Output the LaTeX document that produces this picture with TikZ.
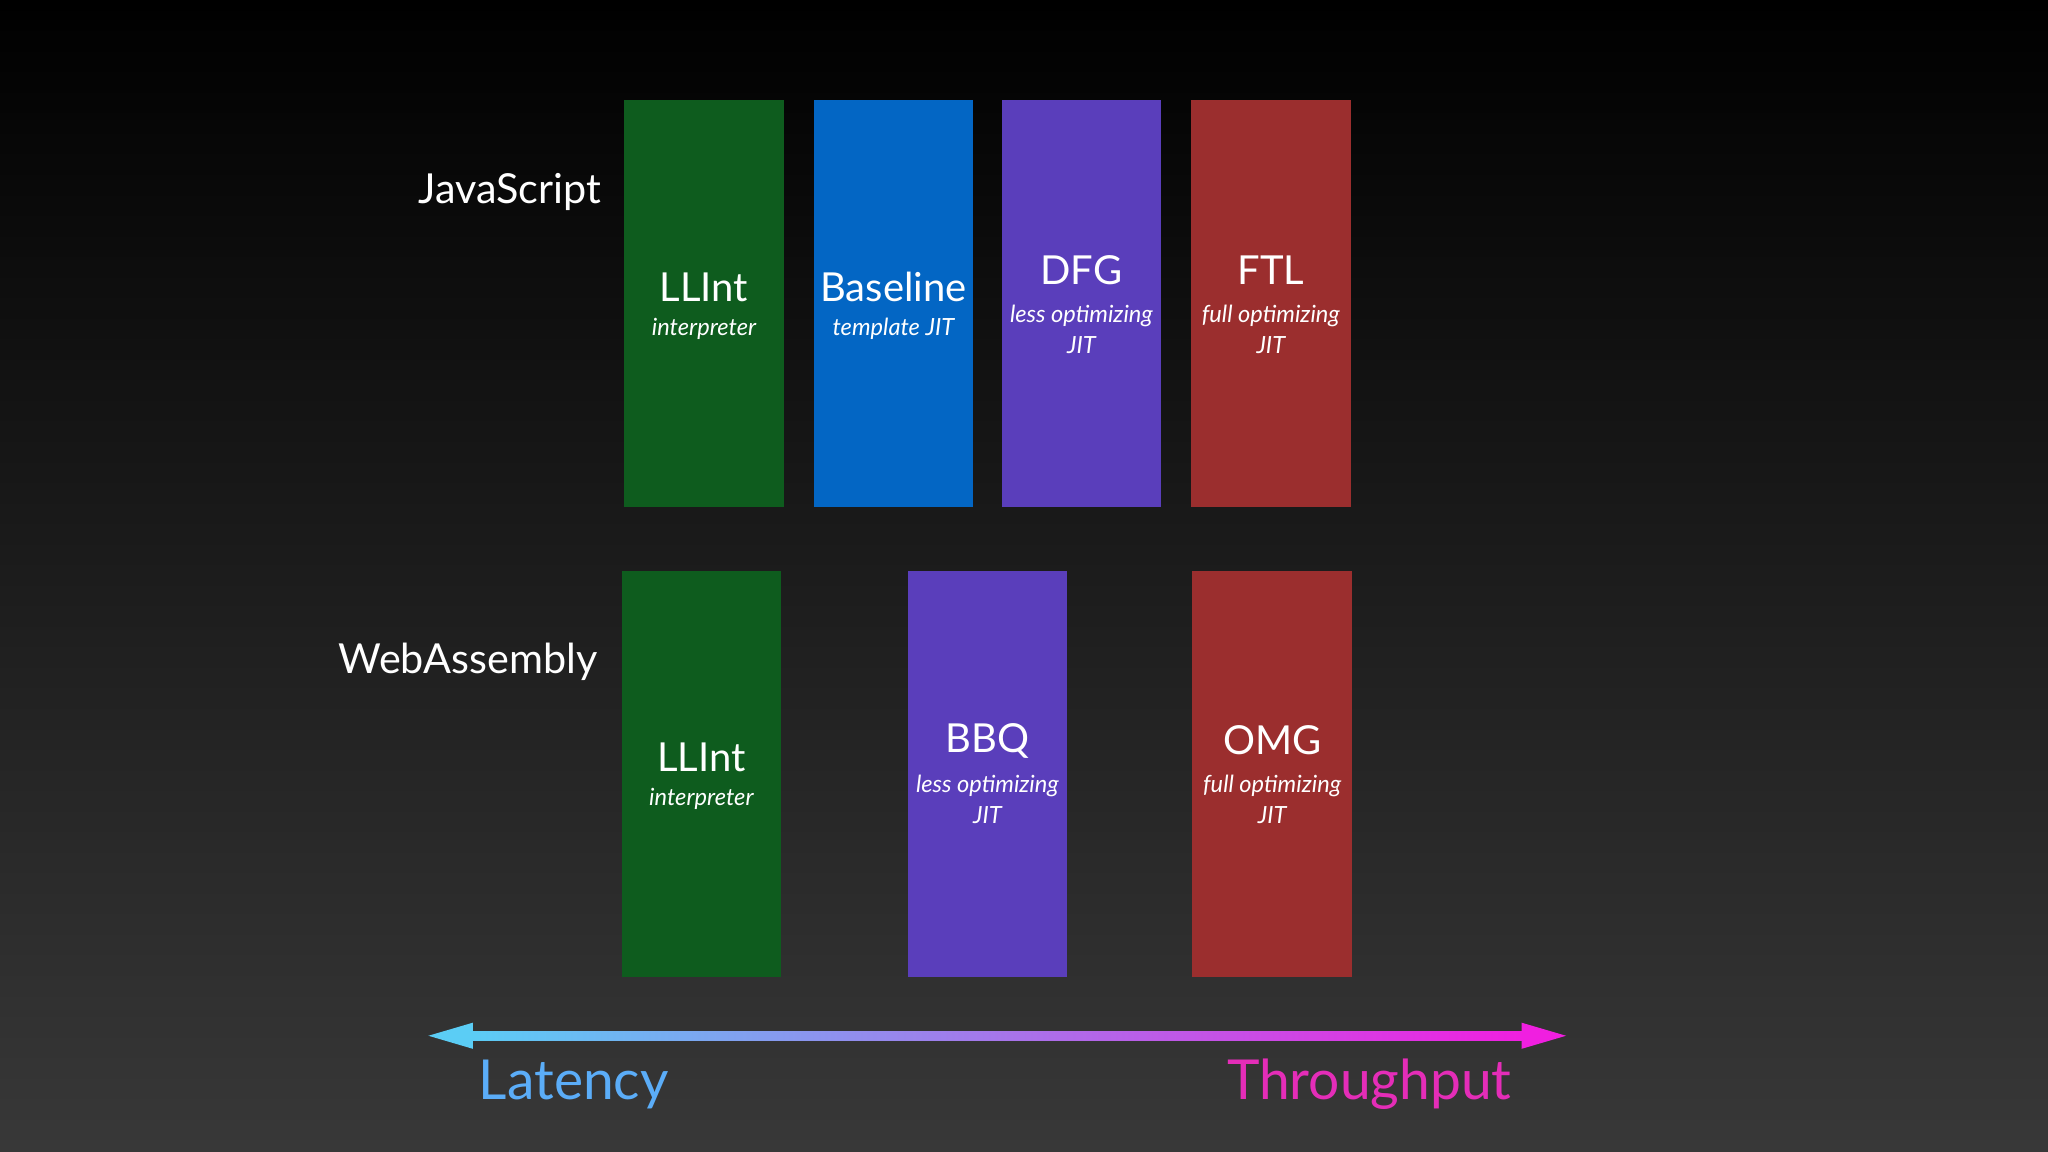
\documentclass[tikz,border=0pt]{standalone}
\usepackage{fontspec}
\setmainfont{Lato}
\definecolor{cgreen}{HTML}{0E5C1E}
\definecolor{cblue}{HTML}{0366C4}
\definecolor{cpurple}{HTML}{5A3EBB}
\definecolor{cred}{HTML}{9B2E2E}
\definecolor{ccyan}{HTML}{5BCDF5}
\definecolor{cmag}{HTML}{F01FE0}
\begin{document}
\begin{tikzpicture}[x=0.01cm,y=-0.01cm,
  tier/.style={minimum width=1.22cm,minimum height=3.11cm,inner sep=0pt},
  ttl/.style={text=white,inner sep=0pt,font=\fontsize{8.7}{10}\selectfont},
  sub/.style={text=white,inner sep=0pt,align=center,font=\fontsize{5.15}{6.8}\selectfont\itshape},
  lbl/.style={text=white,anchor=east,inner sep=0pt,font=\fontsize{9}{11}\selectfont}]
\shade[top color=black,bottom color=black!78!white] (0,0) rectangle (1568,882);
\useasboundingbox (0,0) rectangle (1568,882);
\node[lbl] (js) at (461,147) {JavaScript};
\node[lbl] (wa) at (458,507) {WebAssembly};
\node[tier,fill=cgreen] (j1) at (539,232.5) {};
\node[tier,fill=cblue] (j2) at (684,232.5) {};
\node[tier,fill=cpurple] (j3) at (828,232.5) {};
\node[tier,fill=cred] (j4) at (973,232.5) {};
\node[tier,fill=cgreen] (w1) at (537,592.5) {};
\node[tier,fill=cpurple] (w2) at (756,592.5) {};
\node[tier,fill=cred] (w3) at (974,592.5) {};
\node[ttl] (j1t) at (539,220) {LLInt};
\node[sub] (j1s) at (539,252) {interpreter};
\node[ttl] (j2t) at (684,220) {Baseline};
\node[sub] (j2s) at (684,252) {template JIT};
\node[ttl] (j3t) at (828,207) {DFG};
\node[sub] (j3s) at (828,252) {less optimizing\\JIT};
\node[ttl] (j4t) at (973,207) {FTL};
\node[sub] (j4s) at (973,252) {full optimizing\\JIT};
\node[ttl] (w1t) at (537,580) {LLInt};
\node[sub] (w1s) at (537,612) {interpreter};
\node[ttl] (w2t) at (756,567) {BBQ};
\node[sub] (w2s) at (756,612) {less optimizing\\JIT};
\node[ttl] (w3t) at (974,567) {OMG};
\node[sub] (w3s) at (974,612) {full optimizing\\JIT};
% gradient arrow
\coordinate (al) at (328,793);
\coordinate (ar) at (1199,793);
\shade[left color=ccyan,right color=cmag] (360,789.5) rectangle (1167,796.5);
\fill[ccyan] (al) -- (362,783) -- (362,803) -- cycle;
\fill[cmag] (ar) -- (1165,783) -- (1165,803) -- cycle;
\node[text=ccyan!80!blue!90!white,anchor=west,inner sep=0pt,font=\fontsize{12}{14}\selectfont] (lat) at (366,830) {Latency};
\node[text=cmag!70!purple!90!white,anchor=east,inner sep=0pt,font=\fontsize{12}{14}\selectfont] (thr) at (1158,830) {Throughput};
\end{tikzpicture}
\end{document}
